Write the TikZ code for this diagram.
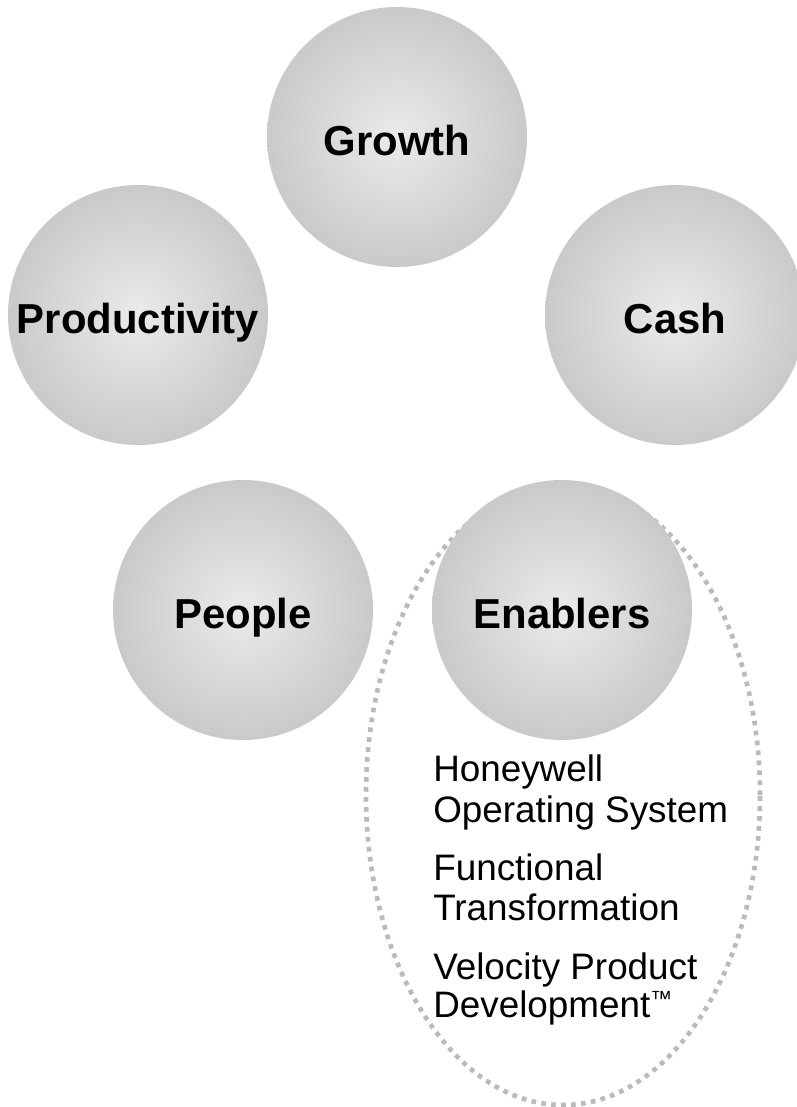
\documentclass[tikz,border=0pt]{standalone}
\usepackage{fontspec}
\setmainfont{Liberation Sans}
\usetikzlibrary{shapes.geometric}

\begin{document}
\begin{tikzpicture}[x=0.25mm,y=-0.25mm,
  ball/.style={circle,minimum size=65mm,inner sep=0pt,inner color=black!8,outer color=black!21,
    text height=9mm,text depth=0pt,font=\fontsize{29.8}{32}\selectfont\bfseries},
  items/.style={anchor=north west,inner sep=0pt,align=left,font=\fontsize{26.2}{28.5}\selectfont}]
  \useasboundingbox (0,0) rectangle (797,1107);
  \node[ellipse,minimum width=98.5mm,minimum height=155mm,draw=black!27,line width=3.3pt,
    dash pattern=on 3.3pt off 3.8pt] (ring) at (563,795) {};
  \path (397,137) node[ball] (growth) {Growth}
  (138,315) node[ball] (prod) {Productivity} (675,315) node[ball] (cash) {Cash}
  (243,610) node[ball] (people) {People} (562,610) node[ball] (enab) {Enablers};
  \node[items] (list) at (433,755) {Honeywell\\Operating System\\[12.8pt]
    Functional\\Transformation\\[14pt]Velocity Product\\[-1.5pt]
    Development\raisebox{7.8pt}{\fontsize{15.6}{16}\selectfont ™}};
\end{tikzpicture}
\end{document}
